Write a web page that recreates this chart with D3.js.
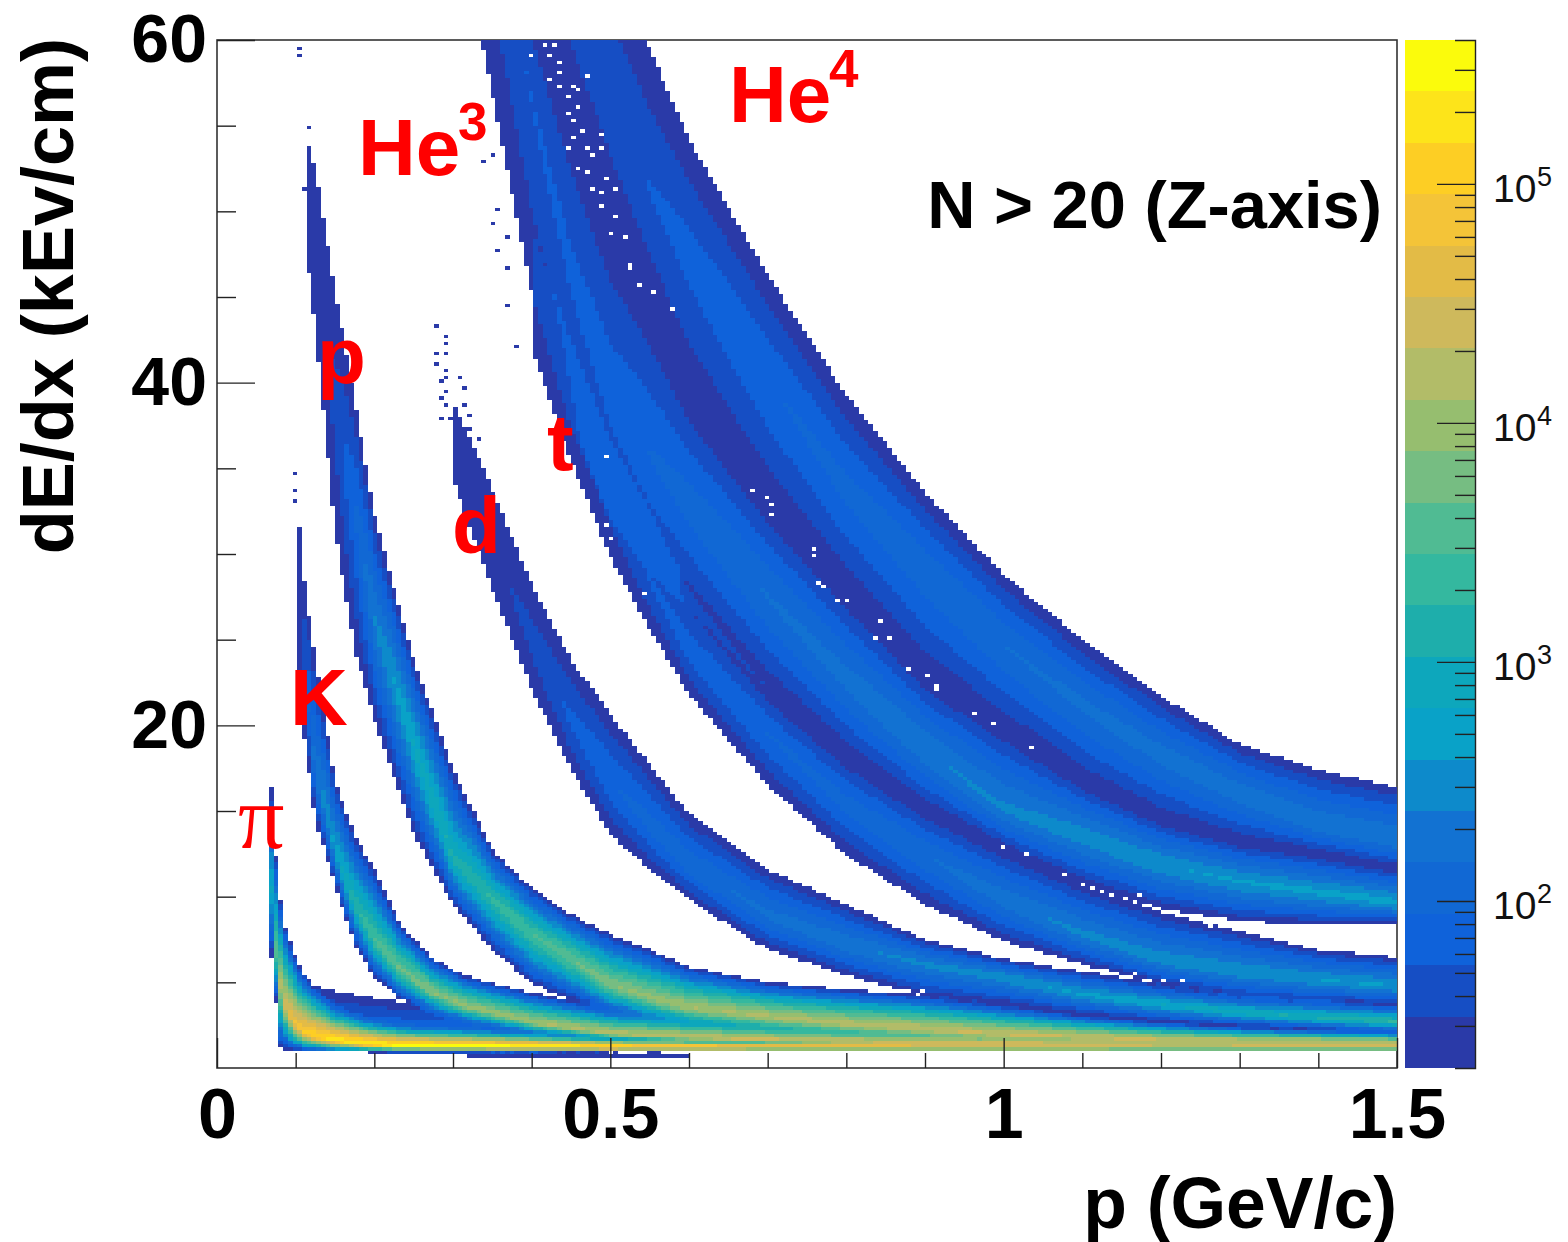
<!DOCTYPE html>
<html><head><meta charset="utf-8">
<script src="https://cdnjs.cloudflare.com/ajax/libs/d3/7.8.5/d3.min.js"></script>
<style>html,body{margin:0;padding:0;background:#fff}svg{display:block}text{font-family:"Liberation Sans",Arial,sans-serif}</style>
</head><body><svg id="c" width="1568" height="1242"></svg>
<script>
// ---- Values. For every particle band: momentum knots (GeV/c),
// upper edge, ridge and lower edge of the band (keV/cm), and the count on the ridge.
const he4P=[.40,.45,.50,.55,.60,.70,.80,.90,1.0,1.1,1.2,1.3,1.4,1.5];
const he4Hi=[75.8,70.0,64.7,59.5,54.2,46.3,39.3,33.6,28.8,25.0,21.7,18.9,17.4,16.4];
const he4Mid=[70.0,63.0,57.4,51.3,47.5,40.2,33.8,29.1,24.7,21.2,18.3,16.0,14.2,13.3];
const he4Lo=[63.0,56.0,49.2,44.6,39.3,32.9,27.8,22.8,19.8,16.7,14.5,13.2,12.5,11.6];
const he4Peak=[45,45,48,55,65,85,105,125,145,165,185,205,225,240];

const he3P=[.30,.35,.40,.45,.50,.55,.60,.70,.80,.90,1.0,1.1,1.2,1.3,1.4,1.5];
const he3Hi=[85.7,77.0,63.0,56.0,49.2,44.6,39.3,32.9,27.8,22.8,19.8,16.7,14.5,13.2,12.5,11.6];
const he3Mid=[79.9,68.2,56.5,46.6,39.6,35.8,32.9,27.5,22.7,18.6,15.1,13.5,11.9,10.9,10.25,9.65];
const he3Lo=[68.2,56.8,45.2,37.3,32.0,28.8,26.8,22.1,18.2,15.1,12.8,10.7,9.3,8.55,8.4,8.4];
const he3Peak=[40,48,55,60,70,90,110,150,180,230,270,330,380,420,460,500];

const tP=[.40,.45,.50,.55,.60,.70,.80,.90,1.0,1.1,1.2,1.3,1.4,1.5];
const tHi=[48.95,42.5,36.7,32.6,27.9,22.1,18.2,15.1,12.8,10.7,9.1,8.0,6.9,6.45];
const tMid=[44.3,37.9,32.6,28.5,24.4,19.5,15.4,12.45,9.85,7.8,6.3,5.6,5.15,4.75];
const tLo=[41.95,35.5,29.8,25.6,21.8,16.5,12.45,9.55,7.4,6.05,4.85,4.1,3.8,3.7];
const tPeak=[25,30,40,55,70,90,110,140,200,280,330,370,400,430];

const dP=[.30,.35,.40,.45,.50,.55,.60,.70,.80,.90,1.0,1.1,1.2,1.3,1.4,1.5];
const dHi=[39.0,33.8,28.2,23.85,20.65,17.7,14.8,11.6,9.55,7.5,6.35,5.65,4.9,4.3,4.0,3.7];
const dMid=[36.1,30.55,25.0,20.35,16.85,14.2,11.9,8.95,7.2,6.05,5.3,4.3,3.7,3.25,2.95,2.7];
const dLo=[34.35,27.95,22.1,17.45,13.6,11.6,9.85,6.9,5.4,4.2,3.7,3.1,2.7,2.4,2.2,2.0];
const dPeak=[21,28,40,60,85,110,130,170,220,280,350,450,650,900,1300,2000];

const protonP=[.115,.125,.15,.175,.20,.25,.30,.35,.40,.45,.50,.55,.60,.70,.80,.90,1.0,1.1,1.2,1.3,1.5];
const protonHi=[54.2,52.45,45.45,39.0,32.3,23.85,17.45,12.75,10.5,9.0,7.8,6.9,5.9,5.0,4.6,4.25,3.7,3.1,2.7,2.4,2.1];
const protonMid=[49.5,47.2,38.45,32.6,26.2,18.9,12.2,9.85,7.8,6.35,4.9,4.1,3.55,3.0,2.55,2.25,1.95,1.8,1.65,1.6,1.55];
const protonLo=[47.2,43.1,31.4,24.4,20.35,13.65,9.55,6.9,4.9,4.0,3.1,2.55,2.1,1.65,1.5,1.3,1.2,1.15,1.1,1.1,1.1];
const protonPeak=[21,24,40,90,250,700,1200,2000,3000,4500,7000,10000,12500,15000,18000,21000,24000,24000,22000,20000,17000];

const kaonP=[.10,.11,.125,.15,.175,.20,.233,.275,.317,.40,.50,.60,.70,.80,1.0,1.25,1.5];
const kaonHi=[34.35,28.8,23.85,16.85,13.6,11.6,8.35,6.35,5.35,4.4,3.5,3.1,2.8,2.55,2.25,2.0,1.85];
const kaonMid=[30.85,24.1,17.4,12.75,9.55,7.5,5.75,4.4,3.6,2.65,2.0,1.8,1.65,1.55,1.45,1.4,1.3];
const kaonLo=[25.0,19.45,14.5,10.7,7.2,5.3,4.0,3.1,2.55,1.95,1.55,1.35,1.3,1.2,1.1,1.05,1.05];
const kaonPeak=[22,45,200,500,1500,3000,5500,8000,10000,13000,18000,22000,25000,28000,28000,24000,20000];

const pionP=[.068,.0745,.081,.087,.096,.11,.127,.148,.19,.233,.36,.50,.55,.70,.85,1.0,1.1,1.3,1.5];
const pionHi=[17.0,12.65,9.85,8.25,6.9,5.55,4.6,3.7,2.95,2.55,2.25,1.9,1.85,1.8,1.8,1.65,1.65,1.65,1.65];
const pionMid=[11.0,6.9,4.85,3.7,2.7,2.1,1.85,1.65,1.4,1.3,1.25,1.2,1.2,1.2,1.2,1.2,1.2,1.2,1.2];
const pionLo=[6.9,4.1,1.2,1.1,1.0,.95,.9,.9,.9,.87,.87,.9,.9,.9,.9,.9,.9,.9,.9];
const pionPeak=[500,3500,15000,30000,60000,100000,150000,200000,280000,320000,340000,280000,200000,120000,100000,80000,70000,50000,40000];

const haloP=[.127,.16,.233,.36,.50,.70];
const haloHi=[4.75,4.4,3.85,3.3,2.85,2.25];
const haloMid=[2.85,2.55,2.25,2.05,1.95,1.65];
const haloLo=[1.1,1.1,1.1,.95,.95,.95];
const haloPeak=[70,80,90,100,100,100];

const stripP=[.32,.60];
const stripHi=[.9,.9];
const stripMid=[.75,.75];
const stripLo=[.55,.55];
const stripPeak=[35,35];

// Empty bins seen inside the bands [p, dE/dx]
const holeP=[.419,.428,.423,.432,.436,.398,.470,.423,.436,.451,.461,.445,.457,.445,.453,.466,.487,.453,.449,.470,.487,.476,.459,.470,.493,.478,.487,.506,.487,.506,.503,.519,.523,.538,.554,.578,.681,.698,.704,.704,.758,.758,.764,.770,.788,.801,.842,.835,.854,.878,.902,.914,.914,.962,.986,1.035,.494,.494,.542,.50,1.139,1.171,1.182,1.196,1.220,1.241,1.258,1.262,1.279,1.296,1.309,1.322,1.339,1.131,1.148,1.165,1.186,1.203,1.228,1.0,1.03,1.075,1.10,.859,.877,.896];
const holeD=[59.65,59.65,59.1,58.7,58.1,59.1,57.9,57.7,57.3,57.3,57.0,56.6,56.0,55.6,55.2,54.8,54.4,54.2,53.7,53.8,53.7,53.3,52.4,52.3,51.9,51.2,51.0,51.3,50.3,49.6,48.8,48.5,46.8,45.8,45.4,44.3,33.8,33.4,32.9,32.3,30.2,29.8,28.4,28.0,27.2,27.2,26.0,25.2,25.0,23.4,22.8,22.4,22.0,20.6,20.2,18.6,35.6,31.6,27.7,30.8,10.2,10.0,9.55,9.25,9.1,8.95,8.65,8.25,8.65,8.5,8.2,7.9,8.25,5.75,5.35,5.55,5.0,5.15,5.0,12.9,12.4,11.3,10.7,4.6,4.4,4.4];
// Isolated single-count bins seen outside the bands [p, dE/dx]
const strayP=[.118,.116,.122,.109,.125,.122,.106,.104,.277,.290,.294,.277,.292,.277,.29,.29,.308,.283,.292,.283,.314,.29,.315,.283,.296,.318,.319,.332,.303,.097,.097,.097,.356,.353,.368,.356,.368,.338,.349,.367,.381];
const strayD=[54.9,52.6,52.0,51.3,51.2,50.7,59.4,59.1,43.3,42.6,42.2,41.8,41.6,41.0,40.8,40.2,40.3,40.0,39.5,39.1,39.7,38.6,38.6,37.9,37.9,38.0,37.3,36.8,36.6,34.6,33.7,33.0,50.0,49.4,48.5,47.7,46.7,52.9,53.2,44.5,42.1];

const levelColors=["#2A3AA8","#164EC4","#0F62DA","#1168D4","#1272D2","#0D8ACB","#09A2C8","#0DA7BC","#1EAEAB","#34B89F","#50BB93","#76BD82","#96BE6F","#B2BC68","#CEB95C","#E3BB46","#F4C438","#FDCE24","#FDE41A","#FBFB0C"];
const xMajorTicks=[0,.5,1,1.5];
const xMinorTicks=[.1,.2,.3,.4,.6,.7,.8,.9,1.1,1.2,1.3,1.4];
const yMajorTicks=[20,40,60];
const yMinorTicks=[5,10,15,25,30,35,45,50,55];
const zMajorTicks=[100,1000,10000,100000];
const zMinorTicks=[30,40,50,60,70,80,90,200,300,400,500,600,700,800,900,2000,3000,4000,5000,6000,7000,8000,9000,20000,30000,40000,50000,60000,70000,80000,90000,200000,300000];
const partLabels=[["K",290,725],["p",317,383],["d",452,553],["t",547,470]];

// ---- Scales
const svg=d3.select("#c");
const x=d3.scaleLinear([0,1.5],[217,1397]);
const y=d3.scaleLinear([0,60],[1068,40]);
const zMin=20,zMax=4e5;
const z=d3.scaleLog([zMin,zMax],[1068,40]);
const zLevels=d3.range(1,levelColors.length).map(i=>Math.pow(10,Math.log10(zMin)+i*(Math.log10(zMax)-Math.log10(zMin))/levelColors.length));
const color=d3.scaleThreshold(zLevels,levelColors);

function band(P,Hi,Mid,Lo,Peak){
  return {min:P[0],max:P[P.length-1],hi:d3.scaleLinear(P,Hi),mid:d3.scaleLinear(P,Mid),lo:d3.scaleLinear(P,Lo),peak:d3.scaleLinear(P,Peak.map(Math.log10))};
}
const bands=[band(he4P,he4Hi,he4Mid,he4Lo,he4Peak),band(he3P,he3Hi,he3Mid,he3Lo,he3Peak),band(tP,tHi,tMid,tLo,tPeak),band(dP,dHi,dMid,dLo,dPeak),band(protonP,protonHi,protonMid,protonLo,protonPeak),band(kaonP,kaonHi,kaonMid,kaonLo,kaonPeak),band(pionP,pionHi,pionMid,pionLo,pionPeak),band(haloP,haloHi,haloMid,haloLo,haloPeak),band(stripP,stripHi,stripMid,stripLo,stripPeak)];

const nx=250,ny=300,dpx=1.5/nx,ddy=60/ny;
const key=(i,j)=>i*1000+j;
const holes=new Set(holeP.map((p,k)=>key(Math.floor(p/dpx),Math.floor(holeD[k]/ddy))));
const strays=new Set(strayP.map((p,k)=>key(Math.floor(p/dpx),Math.floor(strayD[k]/ddy))));
const floorLog=Math.log10(zMin);
function cellCount(p,v){
  let n=0;
  for(const b of bands){
    if(p<b.min||p>b.max) continue;
    const m=b.mid(p),e=v>m?b.hi(p):b.lo(p),u=Math.abs(v-m)/Math.abs(e-m);
    if(u>=1) continue;
    n+=Math.pow(10,floorLog+(b.peak(p)-floorLog)*(1-Math.pow(u,1.2)));
  }
  return n;
}
const runs=[];
for(let j=0;j<ny;j++){
  let cur=null;
  for(let i=0;i<nx;i++){
    const p=(i+.5)*dpx,v=(j+.5)*ddy,k=key(i,j);
    let n=holes.has(k)?0:cellCount(p,v);
    if(n<zMin&&strays.has(k)) n=zMin+1;
    const c=n>=zMin?color(n):null;
    if(cur&&cur.c===c){cur.i1=i+1;continue;}
    if(cur&&cur.c) runs.push(cur);
    cur={c,i0:i,i1:i+1,j};
  }
  if(cur&&cur.c) runs.push(cur);
}

// ---- Frame
svg.append("rect").attr("x",217).attr("y",40).attr("width",1180).attr("height",1028).attr("fill","#fff").attr("stroke","#333").attr("stroke-width",1.6);

// ---- Heat map
svg.append("g").attr("shape-rendering","crispEdges").selectAll("rect").data(runs).join("rect")
  .attr("x",d=>x(d.i0*dpx)).attr("width",d=>x(d.i1*dpx)-x(d.i0*dpx))
  .attr("y",d=>y((d.j+1)*ddy)).attr("height",d=>y(d.j*ddy)-y((d.j+1)*ddy))
  .attr("fill",d=>d.c);

// ---- Axes
function styleAxis(g){g.select(".domain").remove();g.selectAll("line").attr("stroke","#222").attr("stroke-width",1.4);}
svg.append("g").attr("transform","translate(0,1068)").call(d3.axisBottom(x).tickValues(xMinorTicks).tickSize(-15).tickFormat("")).call(styleAxis);
const xa=svg.append("g").attr("transform","translate(0,1068)").call(d3.axisBottom(x).tickValues(xMajorTicks).tickSize(-30).tickPadding(20).tickFormat(d3.format("~g"))).call(styleAxis);
xa.attr("font-family",null).attr("font-size",null);
xa.selectAll("text").attr("font-size",70).attr("font-weight","bold").attr("fill","#000").attr("font-family","Liberation Sans");
svg.append("g").attr("transform","translate(217,0)").call(d3.axisLeft(y).tickValues(yMinorTicks).tickSize(-19).tickFormat("")).call(styleAxis);
const ya=svg.append("g").attr("transform","translate(217,0)").call(d3.axisLeft(y).tickValues(yMajorTicks).tickSize(-38).tickPadding(10).tickFormat(d3.format("d"))).call(styleAxis);
ya.selectAll("text").attr("font-size",68).attr("font-weight","bold").attr("fill","#000").attr("font-family","Liberation Sans");

// ---- Axis titles and notes
svg.append("text").attr("x",1397).attr("y",1228).attr("text-anchor","end").attr("font-size",71.5).attr("font-weight","bold").text("p (GeV/c)");
svg.append("text").attr("transform","translate(73,38) rotate(-90)").attr("text-anchor","end").attr("font-size",72).attr("font-weight","bold").text("dE/dx (kEv/cm)");
svg.append("text").attr("x",1382).attr("y",228).attr("text-anchor","end").attr("font-size",66.8).attr("font-weight","bold").text("N > 20 (Z-axis)");

// ---- Particle labels
const red="#FF0000";
svg.append("g").selectAll("text").data(partLabels).join("text").attr("x",d=>d[1]).attr("y",d=>d[2]).attr("fill",red).attr("font-size",80).attr("font-weight","bold").text(d=>d[0]);
svg.append("text").attr("x",238).attr("y",848).attr("fill",red).attr("font-size",92).style("font-family","'Liberation Serif',serif").text("π");
function sup(px,py,base,s){
  svg.append("text").attr("x",px).attr("y",py).attr("fill",red).attr("font-size",80).attr("font-weight","bold").text(base);
  svg.append("text").attr("x",px+100).attr("y",py-35).attr("fill",red).attr("font-size",53).attr("font-weight","bold").text(s);
}
sup(358,175,"He","3");
sup(729,122,"He","4");

// ---- Colour bar
const zBar=svg.append("g").attr("shape-rendering","crispEdges");
const edges=[zMin,...zLevels,zMax];
zBar.selectAll("rect").data(levelColors).join("rect").attr("x",1405).attr("width",70)
  .attr("y",(d,i)=>z(edges[i+1])).attr("height",(d,i)=>z(edges[i])-z(edges[i+1])).attr("fill",d=>d);
svg.append("g").attr("transform","translate(1475,0)").call(d3.axisLeft(z).tickValues(zMinorTicks).tickSize(20).tickFormat("")).call(g=>g.select(".domain").attr("stroke","#222").attr("stroke-width",1.4)).selectAll("line").attr("stroke","#222").attr("stroke-width",1.4);
svg.append("g").attr("transform","translate(1475,0)").call(d3.axisLeft(z).tickValues(zMajorTicks).tickSize(38).tickFormat("")).call(g=>g.select(".domain").remove()).selectAll("line").attr("stroke","#222").attr("stroke-width",1.4);
zMajorTicks.forEach(v=>{
  svg.append("text").attr("x",1493).attr("y",z(v)+18).attr("font-size",39).attr("fill","#111").text("10");
  svg.append("text").attr("x",1537).attr("y",z(v)+2).attr("font-size",27).attr("fill","#111").text(Math.round(Math.log10(v)));
});
</script></body></html>
